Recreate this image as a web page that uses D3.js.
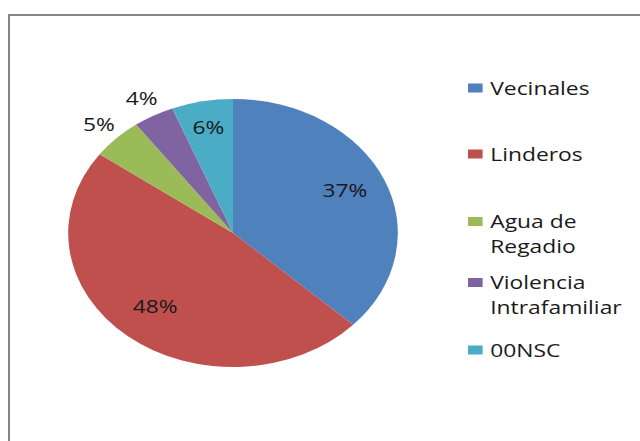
<!DOCTYPE html>
<html lang="es">
  <head>
    <meta charset="UTF-8" />
    <title>Conflictos</title>
    <script src="https://d3js.org/d3.v7.min.js"></script>
    <style>
      * { margin: 0; padding: 0; }
      body { background: #fff; }
      text { font-family: "Open Sans", sans-serif; fill: #1a1a1a; }
    </style>
  </head>
  <body>
    <svg id="grafico" width="640" height="441"></svg>
    <script>
      // datos del grafico
      const categorias = ["Vecinales", "Linderos", "Agua de Regadio", "Violencia Intrafamiliar", "00NSC"];
      const valores = [37, 48, 5, 4, 6];
      const etiquetasLeyenda = [["Vecinales"], ["Linderos"], ["Agua de", "Regadio"], ["Violencia", "Intrafamiliar"], ["00NSC"]];
      const colores = ["#4F81BD", "#C0504D", "#9BBB59", "#8064A2", "#4BACC6"];

      const svg = d3.select("#grafico");
      const sx = 1.23; // el grafico original esta estirado en horizontal

      // marco
      svg.append("rect")
        .attr("x", 9).attr("y", 15)
        .attr("width", 700).attr("height", 500)
        .attr("fill", "none")
        .attr("stroke", "#868686")
        .attr("stroke-width", 2);

      const radio = 134;
      const pie = d3.pie().sort(null).value(d => d);
      const arcos = pie(valores);
      const arc = d3.arc().innerRadius(0).outerRadius(radio);

      const g = svg.append("g").attr("transform", `translate(233,233) scale(${sx},1)`);

      g.selectAll("path")
        .data(arcos)
        .enter()
        .append("path")
        .attr("d", arc)
        .attr("fill", (d, i) => colores[i]);

      const total = d3.sum(valores);
      g.selectAll(".etq")
        .data(arcos)
        .enter()
        .append("text")
        .attr("class", "etq")
        .attr("transform", d => {
          const pct = d.value / total;
          let r = pct < 0.055 ? radio * 1.15 : (pct < 0.1 ? radio * 0.8 : radio * 0.74);
          const a = (d.startAngle + d.endAngle) / 2;
          // las etiquetas grandes van un poco mas altas, como en el original
          return `translate(${r * Math.sin(a)},${-r * Math.cos(a) - (pct > 0.1 ? 3 : 0)})`;
        })
        .attr("text-anchor", "middle")
        .attr("dy", "0.36em")
        .style("font-size", "18.5px")
        .text(d => Math.round(d.value / total * 100) + "%");

      // leyenda
      const posY = [88, 154, 221.5, 282.5, 350];
      const leyenda = svg.selectAll(".ley")
        .data(categorias)
        .enter()
        .append("g")
        .attr("class", "ley")
        .attr("transform", (d, i) => `translate(468,${posY[i]}) scale(1.27,1)`);

      leyenda.append("rect")
        .attr("x", 0).attr("y", -4.5)
        .attr("width", 11.5).attr("height", 9)
        .attr("fill", (d, i) => colores[i]);

      leyenda.append("text")
        .style("font-size", "18px")
        .selectAll("tspan")
        .data((d, i) => etiquetasLeyenda[i])
        .enter()
        .append("tspan")
        .attr("x", 17.5)
        .attr("y", (d, j) => 6.5 + j * 25.5)
        .text(d => d);
    </script>
  </body>
</html>
